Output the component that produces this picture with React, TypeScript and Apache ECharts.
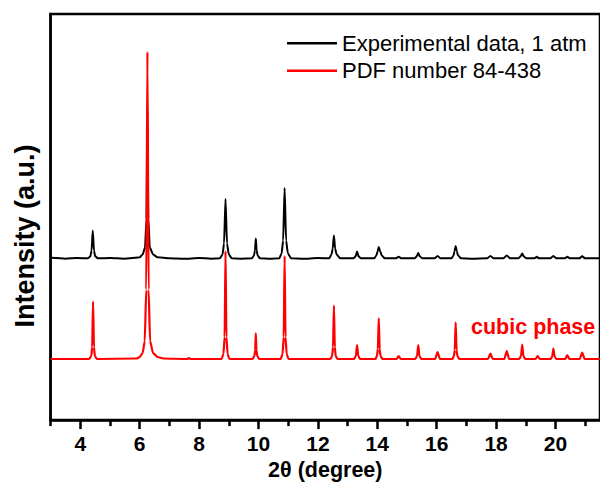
import React, { useEffect, useRef } from "react";
import * as echarts from "echarts";

// 2θ range
const xMin = 3;
const xMax = 21.5;
const majorTicks = [4, 6, 8, 10, 12, 14, 16, 18, 20];
const minorTicks = [3, 5, 7, 9, 11, 13, 15, 17, 19, 21];

// vertical offsets of the stacked patterns (a.u.)
const blackOffset = 163.3;
const redOffset = 61.7;

// Experimental data, 1 atm: [2θ, intensity above its baseline]
const experimental: number[][] = [
  [3.0, 0.5], [3.5, -0.3], [3.9, 0.4],
  [4.25, 0], [4.34, 2], [4.38, 8], [4.42, 28], [4.46, 8], [4.5, 2], [4.6, 0],
  [5.0, 0.4], [5.5, -0.4], [5.85, 0.5],
  [6.0, 1], [6.1, 4], [6.18, 11], [6.23, 40], [6.26, 150], [6.29, 40], [6.34, 11], [6.45, 4], [6.6, 1],
  [7.0, 0], [7.5, -0.5], [8.0, 0.3], [8.4, -0.3],
  [8.7, 0], [8.79, 4], [8.84, 15], [8.89, 60], [8.94, 15], [9.0, 4], [9.1, 0],
  [9.4, -0.3],
  [9.78, 0], [9.85, 3], [9.88, 8], [9.91, 20], [9.94, 8], [9.97, 3], [10.05, 0],
  [10.4, -0.4],
  [10.7, 0], [10.78, 5], [10.83, 18], [10.88, 71], [10.93, 18], [10.99, 5], [11.1, 0],
  [11.5, -0.5], [12.0, 0.3],
  [12.38, 0], [12.46, 4], [12.5, 10], [12.54, 23], [12.58, 10], [12.63, 4], [12.75, 0],
  [13.2, 0], [13.27, 2], [13.32, 7], [13.37, 2], [13.45, 0],
  [13.9, 0], [13.97, 3], [14.01, 7], [14.05, 11.5], [14.1, 7], [14.15, 3], [14.25, 0],
  [14.62, 0], [14.72, 1.5], [14.82, 0],
  [15.26, 0], [15.33, 2], [15.38, 5.5], [15.43, 2], [15.52, 0],
  [15.93, 0], [16.03, 2.5], [16.13, 0],
  [16.5, 0], [16.57, 3], [16.6, 7], [16.64, 12.5], [16.68, 7], [16.72, 3], [16.82, 0],
  [17.2, -0.4],
  [17.7, 0], [17.81, 2.5], [17.92, 0],
  [18.25, 0], [18.36, 3], [18.47, 0],
  [18.75, 0], [18.83, 2], [18.88, 5], [18.93, 2], [19.02, 0],
  [19.3, 0], [19.37, 1.5], [19.45, 0],
  [19.83, 0], [19.93, 2.5], [20.03, 0],
  [20.32, 0], [20.4, 1.7], [20.48, 0],
  [20.8, 0], [20.9, 2], [21.0, 0],
  [21.5, 0],
];

// PDF number 84-438 (cubic phase): [2θ, intensity above its baseline]
const reference: number[][] = [
  [3.0, 0],
  [4.3, 0], [4.37, 3], [4.4, 12], [4.43, 58], [4.46, 12], [4.49, 3], [4.56, 0],
  [5.9, 0.5], [6.0, 2], [6.1, 6], [6.17, 18], [6.22, 70], [6.26, 310], [6.3, 70], [6.35, 18], [6.45, 6], [6.6, 2], [6.8, 0.5],
  [7.6, 0], [7.66, 1], [7.72, 0],
  [8.76, 0], [8.82, 5], [8.86, 22], [8.89, 109], [8.92, 22], [8.96, 5], [9.02, 0],
  [9.8, 0], [9.86, 3], [9.89, 9], [9.91, 26], [9.93, 9], [9.96, 3], [10.02, 0],
  [10.75, 0], [10.81, 5], [10.85, 22], [10.88, 104], [10.91, 22], [10.95, 5], [11.01, 0],
  [12.42, 0], [12.48, 3], [12.51, 12], [12.54, 54], [12.57, 12], [12.6, 3], [12.66, 0],
  [13.22, 0], [13.28, 3], [13.32, 14], [13.36, 3], [13.42, 0],
  [13.94, 0], [13.99, 3], [14.02, 10], [14.05, 41], [14.08, 10], [14.11, 3], [14.17, 0],
  [14.65, 0], [14.72, 3], [14.79, 0],
  [15.28, 0], [15.34, 3], [15.38, 14], [15.42, 3], [15.48, 0],
  [15.95, 0], [16.03, 7], [16.11, 0],
  [16.53, 0], [16.58, 3], [16.61, 9], [16.64, 37], [16.67, 9], [16.7, 3], [16.76, 0],
  [17.73, 0], [17.81, 5.5], [17.89, 0],
  [18.28, 0], [18.36, 8], [18.44, 0],
  [18.78, 0], [18.84, 3], [18.88, 14.5], [18.92, 3], [18.98, 0],
  [19.33, 0], [19.4, 3], [19.47, 0],
  [19.84, 0], [19.89, 2.5], [19.93, 10.5], [19.97, 2.5], [20.03, 0],
  [20.33, 0], [20.4, 4], [20.47, 0],
  [20.82, 0], [20.9, 6.5], [20.98, 0],
  [21.5, 0],
];

const seriesNames = ["Experimental data, 1 atm", "PDF number 84-438"];
const seriesColors = ["#000000", "#ff0000"];
const annotation = "cubic phase";
const xTitle = "2θ (degree)";
const yTitle = "Intensity (a.u.)";

const FONT = '"Liberation Sans", Arial, sans-serif';

export default function App() {
  const ref = useRef<HTMLDivElement>(null);

  useEffect(() => {
    if (!ref.current) return;
    const chart = echarts.init(ref.current, null, { renderer: "svg" });

    const blackData = experimental.map(([x, y]) => [x, y + blackOffset]);
    const redData = reference.map(([x, y]) => [x, y + redOffset]);

    chart.setOption({
      animation: false,
      textStyle: { fontFamily: FONT },
      grid: {
        left: 50.6,
        top: 14,
        bottom: 62,
        right: -7.5,
        show: true,
        borderColor: "#000",
        borderWidth: 2.5,
        backgroundColor: "transparent",
      },
      legend: {
        orient: "vertical",
        left: 287,
        top: 32.3,
        padding: 0,
        itemWidth: 50,
        itemHeight: 2.5,
        itemGap: 5.4,
        textStyle: { fontSize: 22, color: "#000", fontFamily: FONT },
        data: seriesNames.map((n) => ({ name: n, icon: "rect" })),
      },
      xAxis: [
        {
          type: "value",
          min: xMin,
          max: xMax,
          position: "bottom",
          name: xTitle,
          nameLocation: "middle",
          nameGap: 37,
          nameTextStyle: { fontSize: 21.5, fontWeight: "bold", color: "#000", fontFamily: FONT },
          axisLine: { show: true, lineStyle: { color: "#000", width: 2.5 } },
          axisTick: {
            show: true,
            customValues: majorTicks,
            length: 9,
            inside: false,
            lineStyle: { color: "#000", width: 2.5 },
          },
          axisLabel: {
            show: true,
            customValues: majorTicks,
            fontSize: 21,
            fontWeight: "bold",
            color: "#000",
            margin: 13,
            fontFamily: FONT,
          },
          splitLine: { show: false },
        },
        {
          type: "value",
          min: xMin,
          max: xMax,
          position: "bottom",
          axisLine: { show: false },
          axisTick: {
            show: true,
            customValues: minorTicks,
            length: 6,
            inside: false,
            lineStyle: { color: "#000", width: 2.5 },
          },
          axisLabel: { show: false },
          splitLine: { show: false },
        },
      ],
      yAxis: {
        type: "value",
        min: 0,
        max: 410,
        axisLine: { show: true, lineStyle: { color: "#000", width: 2.5 } },
        axisTick: { show: false },
        axisLabel: { show: false },
        splitLine: { show: false },
      },
      series: [
        {
          name: seriesNames[0],
          type: "line",
          data: blackData,
          showSymbol: false,
          symbol: "none",
          smooth: 0.2,
          smoothMonotone: "x",
          color: seriesColors[0],
          lineStyle: { color: seriesColors[0], width: 2 },
          z: 2,
        },
        {
          name: seriesNames[1],
          type: "line",
          data: redData,
          showSymbol: false,
          symbol: "none",
          smooth: 0.2,
          smoothMonotone: "x",
          color: seriesColors[1],
          lineStyle: { color: seriesColors[1], width: 2.2 },
          z: 3,
        },
      ],
      graphic: [
        {
          type: "text",
          x: 25,
          y: 236,
          rotation: Math.PI / 2,
          style: {
            text: yTitle,
            fill: "#000",
            font: `bold 27px ${FONT}`,
            align: "center",
            verticalAlign: "middle",
          },
          z: 10,
        },
        {
          type: "text",
          left: 471,
          top: 316,
          style: {
            text: annotation,
            fill: "#ff0000",
            font: `bold 21.5px ${FONT}`,
          },
          z: 10,
        },
      ],
    });

    return () => chart.dispose();
  }, []);

  return (
    <div
      ref={ref}
      style={{ position: "absolute", left: 0, top: 0, width: 600, height: 486 }}
    />
  );
}
